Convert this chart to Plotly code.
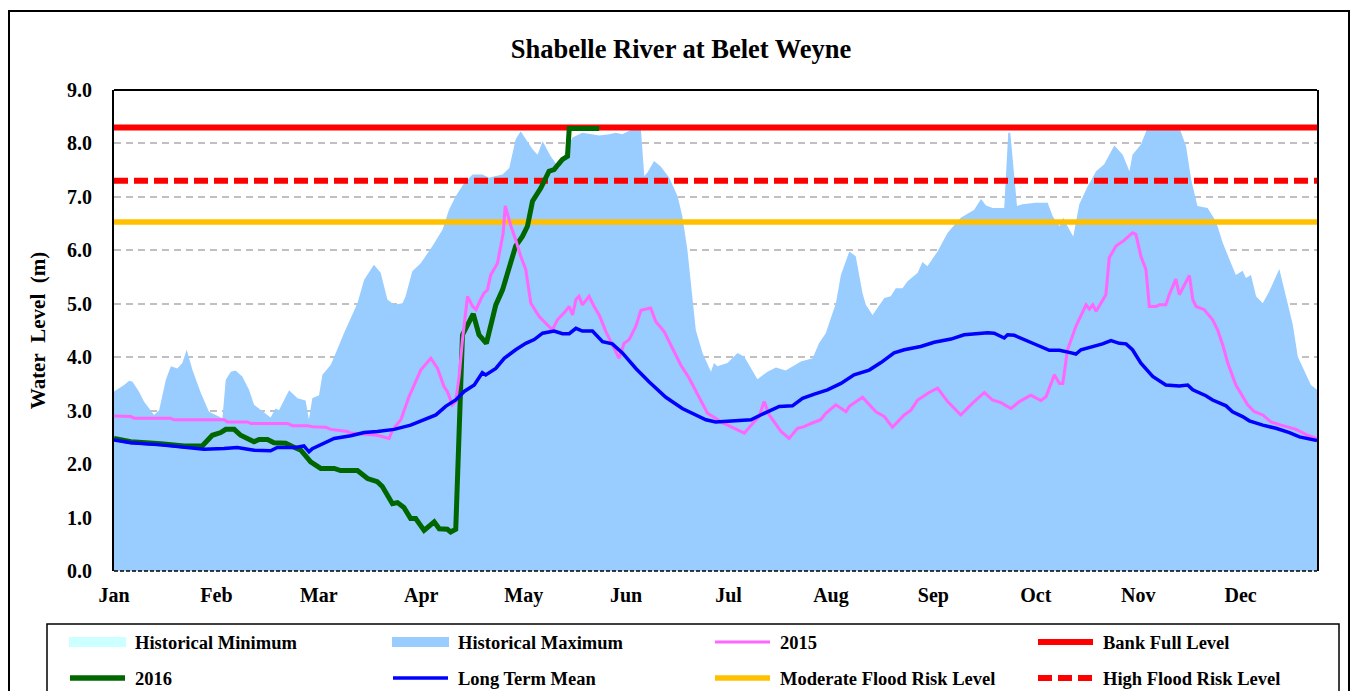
import plotly.graph_objects as go

# ---------------- data (x = day of year, y = water level in m) ----------------
MONTHS = ["Jan", "Feb", "Mar", "Apr", "May", "Jun", "Jul", "Aug", "Sep", "Oct", "Nov", "Dec"]
DAYS_PER_MONTH = 30.42
X_END = 357.3

BANK_FULL = 8.3
HIGH_FLOOD = 7.3
MODERATE_FLOOD = 6.53

MAX_DAY = [0, 3, 4.5, 5.5, 7.4, 8.9, 11.9, 13.4, 15.4, 16.9,
           18.8, 20.3, 21.6, 23.3, 25.8, 28.2, 32.2, 33.2, 34.7, 36.1,
           38.1, 40.1, 41.6, 44.1, 46.5, 48.0, 49.0, 52.0, 54.5, 56.9,
           57.9, 58.9, 60.9, 61.9, 64.4, 65.4, 68.3, 72.3, 74.3, 77.2,
           79.2, 81.2, 83.2, 85.7, 86.6, 88.6, 91.1, 94.6, 97.6, 99.5,
           101.5, 104.0, 106.5, 109.4, 111.4, 113.4, 115.4, 117.4, 119.3, 120.8,
           124.3, 125.8, 127.3, 129.7, 132.2, 134.5, 136.2, 139.1, 144.1, 147.1,
           149.0, 151.0, 153.0, 155.0, 156.5, 157.5, 158.4, 160.4, 162.4, 164.9,
           167.4, 168.8, 170.3, 171.8, 172.8, 174.8, 177.3, 178.2, 179.2, 182.2,
           185.2, 187.2, 191.1, 194.1, 196.6, 199.5, 204.0, 207.5, 209.4, 211.4,
           214.4, 215.9, 218.4, 220.3, 222.3, 223.3, 225.3, 228.8, 230.7, 232.2,
           234.2, 235.7, 238.7, 240.1, 241.6, 244.6, 247.6, 251.5, 255.5, 257.5,
           259.0, 261.0, 264.4, 265.6, 266.2, 268.2, 269.8, 273.8, 277.3, 278.8,
           280.8, 282.0, 283.2, 284.9, 286.7, 289.2, 291.7, 294.1, 297.1, 299.6,
           301.6, 302.5, 305.0, 307.0, 316.4, 318.4, 319.9, 321.8, 324.8, 327.3,
           329.3, 331.3, 333.2, 335.2, 336.2, 337.7, 339.2, 341.2, 343.1, 346.1,
           347.6, 350.1, 351.6, 354.0, 355.5, 357.3]
MAX_LEVEL = [3.36, 3.48, 3.56, 3.54, 3.36, 3.17, 2.92, 3.01, 3.58, 3.83,
             3.79, 3.89, 4.14, 3.76, 3.33, 2.98, 2.86, 3.58, 3.73, 3.75,
             3.64, 3.39, 3.11, 2.98, 2.87, 3.04, 3.01, 3.38, 3.23, 3.19,
             2.83, 3.23, 3.29, 3.67, 3.86, 4.01, 4.45, 5.01, 5.45, 5.73,
             5.58, 5.08, 4.98, 5.01, 5.14, 5.61, 5.76, 6.08, 6.39, 6.76,
             7.01, 7.26, 7.42, 7.42, 7.36, 7.39, 7.42, 7.54, 8.08, 8.23,
             7.89, 7.79, 8.04, 7.76, 7.54, 7.90, 8.11, 8.20, 8.15, 8.17,
             8.20, 8.17, 8.23, 8.30, 8.26, 7.39, 7.45, 7.67, 7.57, 7.36,
             7.01, 6.64, 6.01, 5.08, 4.51, 4.08, 3.73, 3.89, 3.83, 3.89,
             4.08, 4.01, 3.59, 3.73, 3.81, 3.75, 3.92, 3.98, 4.26, 4.45,
             5.01, 5.54, 5.98, 5.89, 5.20, 4.98, 4.79, 5.11, 5.14, 5.29,
             5.29, 5.42, 5.58, 5.78, 5.70, 5.98, 6.33, 6.61, 6.76, 6.96,
             6.84, 6.79, 6.79, 8.20, 8.20, 6.83, 6.86, 6.89, 6.89, 6.64,
             6.45, 6.61, 6.45, 6.26, 6.86, 7.20, 7.48, 7.61, 7.96, 7.79,
             7.48, 7.79, 7.98, 8.30, 8.30, 7.95, 7.33, 6.83, 6.79, 6.54,
             6.14, 5.83, 5.54, 5.62, 5.48, 5.54, 5.14, 5.01, 5.23, 5.65,
             5.26, 4.61, 4.01, 3.70, 3.48, 3.39]

Y2015_DAY = [0, 5, 6, 16.8, 17.8, 32.7, 33.7, 39.6, 40.6, 51.5,
             53, 57.4, 58.9, 62.9, 64.4, 69.3, 70.3, 78.2, 81.7, 82.7,
             85.2, 87.6, 91.1, 94.1, 96.1, 98.0, 99.0, 100.5, 101.5, 102.5,
             103.5, 105.0, 106.5, 107.5, 108.9, 109.9, 110.9, 111.9, 113.9, 114.9,
             115.6, 116.2, 117.9, 119.3, 120.8, 122.3, 123.8, 126.3, 128.7, 130.2,
             131.7, 133.7, 135.2, 136.2, 137.2, 138.1, 139.1, 141.1, 142.6, 144.1,
             146.1, 148.0, 150.0, 151.5, 153.0, 155.0, 156.5, 159.4, 160.9, 163.4,
             165.9, 168.3, 170.8, 173.8, 176.3, 178.7, 180.2, 183.2, 187.2, 190.1,
             191.6, 193.1, 194.6, 196.1, 198.1, 200.5, 203.0, 205.0, 207.0, 209.9,
             211.4, 214.4, 217.4, 218.4, 222.3, 226.3, 228.8, 231.2, 234.7, 236.7,
             238.7, 242.1, 244.6, 247.6, 251.5, 255.0, 258.5, 260.9, 263.4, 266.4,
             268.9, 272.3, 275.3, 276.8, 279.3, 280.8, 281.8, 283.2, 285.7, 288.7,
             289.7, 290.7, 291.7, 294.6, 295.6, 297.6, 300.1, 302.5, 303.5, 305.0,
             306.5, 307.5, 309.5, 310.5, 312.4, 313.4, 315.4, 316.4, 319.4, 320.4,
             321.4, 323.8, 326.3, 327.8, 329.3, 330.8, 333.2, 336.7, 338.7, 341.2,
             343.6, 346.6, 351.1, 354.5, 357.3]
Y2015_LEVEL = [2.90, 2.89, 2.86, 2.86, 2.83, 2.83, 2.79, 2.79, 2.76, 2.76,
               2.72, 2.72, 2.70, 2.69, 2.65, 2.61, 2.58, 2.54, 2.48, 2.64,
               2.83, 3.26, 3.76, 3.98, 3.79, 3.45, 3.36, 3.11, 3.17, 3.64,
               4.33, 5.14, 4.95, 4.89, 5.08, 5.20, 5.26, 5.54, 5.76, 6.14,
               6.33, 6.83, 6.45, 6.20, 5.89, 5.64, 5.01, 4.76, 4.61, 4.51,
               4.70, 4.83, 4.95, 4.79, 5.08, 5.14, 4.98, 5.14, 4.95, 4.79,
               4.48, 4.23, 3.98, 4.26, 4.33, 4.58, 4.88, 4.92, 4.67, 4.48,
               4.17, 3.86, 3.61, 3.26, 2.95, 2.86, 2.79, 2.70, 2.58, 2.79,
               2.89, 3.17, 2.92, 2.79, 2.61, 2.48, 2.67, 2.70, 2.76, 2.83,
               2.95, 3.11, 2.98, 3.08, 3.25, 2.98, 2.89, 2.69, 2.92, 3.01,
               3.20, 3.34, 3.42, 3.17, 2.92, 3.14, 3.34, 3.20, 3.15, 3.04,
               3.17, 3.29, 3.19, 3.26, 3.67, 3.51, 3.51, 4.14, 4.58, 4.98,
               4.90, 4.98, 4.86, 5.17, 5.86, 6.08, 6.19, 6.33, 6.30, 5.89,
               5.64, 4.95, 4.95, 4.98, 4.98, 5.17, 5.46, 5.17, 5.53, 5.08,
               4.95, 4.89, 4.70, 4.51, 4.23, 3.89, 3.48, 3.11, 2.98, 2.92,
               2.79, 2.73, 2.65, 2.54, 2.48]

Y2016_DAY = [0, 5, 13.9, 20.8, 26.2, 29.2, 31.7, 33.2, 35.7, 37.6,
             39.6, 41.6, 43.1, 45.6, 47.5, 51.0, 53.0, 55.5, 58.4, 61.4,
             65.4, 67.3, 72.3, 75.3, 78.2, 79.7, 82.7, 84.2, 86.1, 88.1,
             89.6, 92.1, 95.1, 96.6, 99.0, 100.0, 101.5, 103.5, 106.7, 108.4,
             110.6, 113.4, 115.4, 117.9, 119.3, 121.3, 122.8, 124.3, 126.8, 129.2,
             130.7, 133.2, 134.7, 135.2, 144.1]
Y2016_LEVEL = [2.48, 2.42, 2.38, 2.34, 2.34, 2.54, 2.59, 2.65, 2.65, 2.54,
               2.48, 2.42, 2.46, 2.46, 2.40, 2.39, 2.33, 2.26, 2.04, 1.92,
               1.92, 1.88, 1.88, 1.73, 1.67, 1.58, 1.26, 1.28, 1.19, 0.98,
               0.98, 0.76, 0.92, 0.79, 0.78, 0.73, 0.78, 4.42, 4.81, 4.42,
               4.26, 4.98, 5.26, 5.83, 6.08, 6.26, 6.45, 6.92, 7.17, 7.48,
               7.51, 7.70, 7.76, 8.28, 8.28]

MEAN_DAY = [0, 5, 13.9, 20.8, 26.7, 32.7, 36.6, 41.6, 46.5, 48.5,
            54.0, 56.4, 57.9, 58.9, 61.4, 65.4, 70.3, 74.3, 78.2, 83.2,
            88.1, 91.1, 95.6, 98.5, 101.5, 104.0, 107.0, 109.4, 110.4, 113.4,
            115.9, 119.3, 122.3, 124.8, 127.3, 130.7, 133.2, 135.2, 137.2, 139.1,
            142.1, 145.1, 148.0, 151.0, 155.0, 158.9, 163.9, 168.8, 172.8, 175.8,
            178.7, 184.2, 189.2, 193.1, 197.6, 201.5, 204.5, 208.0, 211.9, 215.9,
            219.8, 224.3, 227.8, 231.7, 234.7, 239.6, 243.6, 248.6, 252.5, 259.5,
            261.4, 264.4, 265.4, 267.4, 270.3, 272.8, 274.8, 277.8, 280.8, 283.7,
            285.7, 287.2, 290.7, 293.6, 296.1, 298.6, 300.6, 302.5, 305.0, 308.5,
            312.4, 316.4, 318.9, 320.4, 324.3, 326.3, 330.3, 332.2, 335.2, 337.2,
            341.2, 345.1, 349.1, 352.1, 357.3]
MEAN_LEVEL = [2.45, 2.40, 2.36, 2.31, 2.28, 2.29, 2.31, 2.26, 2.25, 2.31,
              2.31, 2.34, 2.23, 2.29, 2.36, 2.48, 2.53, 2.59, 2.61, 2.65,
              2.73, 2.81, 2.92, 3.08, 3.20, 3.36, 3.48, 3.71, 3.67, 3.79,
              3.98, 4.14, 4.26, 4.33, 4.45, 4.49, 4.44, 4.44, 4.54, 4.49,
              4.49, 4.29, 4.25, 4.08, 3.79, 3.54, 3.25, 3.04, 2.92, 2.83,
              2.79, 2.81, 2.83, 2.95, 3.08, 3.09, 3.23, 3.31, 3.39, 3.51,
              3.67, 3.76, 3.90, 4.08, 4.14, 4.20, 4.28, 4.34, 4.42, 4.46,
              4.45, 4.36, 4.42, 4.41, 4.33, 4.25, 4.21, 4.13, 4.13, 4.09,
              4.06, 4.14, 4.20, 4.25, 4.31, 4.26, 4.25, 4.14, 3.89, 3.64,
              3.48, 3.46, 3.48, 3.39, 3.28, 3.20, 3.09, 2.98, 2.89, 2.81,
              2.73, 2.67, 2.59, 2.51, 2.44]

LEGEND_NAMES = ["Historical Minimum", "Historical Maximum", "2015", "Bank Full Level",
                "2016", "Long Term Mean", "Moderate Flood Risk Level", "High Flood Risk Level"]

# ---------------- styles ----------------
FONT = "Liberation Serif, Times New Roman, serif"
C_MIN, C_MAX = "#CCFFFF", "#99CCFF"
C_2015, C_2016, C_MEAN = "#FF66FF", "#006600", "#0000FF"
C_RED, C_YELLOW = "#FF0000", "#FFC000"
HIGH_DASH = "14px,6px"

W, H = 1354, 691
ML, MR, MT, MB = 114, 37, 90, 120
PW, PH = W - ML - MR, H - MT - MB


def px_x(p):
    return (p - ML) / PW


def px_y(p):
    return (H - MB - p) / PH


fig = go.Figure()

fig.add_trace(go.Scatter(x=MAX_DAY, y=MAX_LEVEL, mode="lines", fill="tozeroy",
                         fillcolor=C_MAX, line=dict(width=0, color=C_MAX),
                         name=LEGEND_NAMES[1], showlegend=False))
fig.add_trace(go.Scatter(x=[0, X_END], y=[BANK_FULL, BANK_FULL], mode="lines",
                         line=dict(color=C_RED, width=6),
                         name=LEGEND_NAMES[3], showlegend=False))
fig.add_trace(go.Scatter(x=[0, X_END], y=[HIGH_FLOOD, HIGH_FLOOD], mode="lines",
                         line=dict(color=C_RED, width=6, dash=HIGH_DASH),
                         name=LEGEND_NAMES[7], showlegend=False))
fig.add_trace(go.Scatter(x=[0, X_END], y=[MODERATE_FLOOD, MODERATE_FLOOD], mode="lines",
                         line=dict(color=C_YELLOW, width=5.5),
                         name=LEGEND_NAMES[6], showlegend=False))
fig.add_trace(go.Scatter(x=Y2016_DAY, y=Y2016_LEVEL, mode="lines",
                         line=dict(color=C_2016, width=5),
                         name=LEGEND_NAMES[4], showlegend=False))
fig.add_trace(go.Scatter(x=Y2015_DAY, y=Y2015_LEVEL, mode="lines",
                         line=dict(color=C_2015, width=3),
                         name=LEGEND_NAMES[2], showlegend=False))
fig.add_trace(go.Scatter(x=MEAN_DAY, y=MEAN_LEVEL, mode="lines",
                         line=dict(color=C_MEAN, width=3.5),
                         name=LEGEND_NAMES[5], showlegend=False))

fig.update_layout(
    width=W, height=H, autosize=False,
    margin=dict(l=ML, r=MR, t=MT, b=MB, autoexpand=False),
    paper_bgcolor="white", plot_bgcolor="white",
    font=dict(family=FONT, color="black", weight="bold"),
    title=dict(text="Shabelle River at Belet Weyne", x=0.503, xanchor="center",
               y=1 - 49 / H, yanchor="middle", yref="container",
               font=dict(size=26.5, family=FONT, weight="bold", color="black")),
    xaxis=dict(range=[0, X_END], tickvals=[i * DAYS_PER_MONTH for i in range(12)],
               ticktext=MONTHS, showgrid=False, zeroline=False, showline=False,
               ticks="", ticklabelstandoff=10, automargin=False,
               tickfont=dict(size=20, family=FONT, weight="bold")),
    yaxis=dict(range=[0, 9], dtick=1, tickformat=".1f", showgrid=True,
               gridcolor="#C0C0C0", griddash="7px,5px", gridwidth=1.5,
               zeroline=False, showline=True, linecolor="black", linewidth=2,
               mirror=True, ticks="", ticklabelstandoff=16, automargin=False,
               tickfont=dict(size=20, family=FONT, weight="bold"),
               title=dict(text="Water\u00a0 Level\u00a0 (m)", standoff=16,
                          font=dict(size=21, family=FONT, weight="bold"))),
    showlegend=False,
)

# plot-area top border (solid) and bottom axis line (dashed)
fig.add_shape(type="line", xref="paper", yref="paper", x0=0, x1=1, y0=1, y1=1,
              line=dict(color="black", width=2))
fig.add_shape(type="line", xref="paper", yref="paper", x0=0, x1=1, y0=0, y1=0,
              line=dict(color="black", width=1.5, dash="4px,2px"))
# outer chart frame
fig.add_shape(type="rect", xref="paper", yref="paper",
              x0=px_x(9), x1=px_x(1349), y0=px_y(710), y1=px_y(11),
              line=dict(color="black", width=2), fillcolor="rgba(0,0,0,0)")

# ---------------- legend (box, swatches, labels) ----------------
fig.add_shape(type="rect", xref="paper", yref="paper",
              x0=px_x(47), x1=px_x(1339), y0=px_y(705), y1=px_y(624),
              line=dict(color="black", width=1.5), fillcolor="white")

COL_X = [69, 392, 714, 1037]
ROW_Y = [642, 678]
SWATCH_LEN = 57
legend_styles = [
    ("fill", C_MIN, None, None),
    ("fill", C_MAX, None, None),
    ("line", C_2015, 3, "solid"),
    ("line", C_RED, 6, "solid"),
    ("line", C_2016, 5.5, "solid"),
    ("line", C_MEAN, 3.5, "solid"),
    ("line", C_YELLOW, 5.5, "solid"),
    ("line", C_RED, 6, HIGH_DASH),
]
for i, (name, (kind, color, width, dash)) in enumerate(zip(LEGEND_NAMES, legend_styles)):
    cx = COL_X[i % 4]
    cy = ROW_Y[i // 4]
    if kind == "fill":
        fig.add_shape(type="rect", xref="paper", yref="paper",
                      x0=px_x(cx), x1=px_x(cx + SWATCH_LEN),
                      y0=px_y(cy + 5), y1=px_y(cy - 5),
                      line=dict(width=0), fillcolor=color)
    else:
        fig.add_shape(type="line", xref="paper", yref="paper",
                      x0=px_x(cx + 1), x1=px_x(cx + SWATCH_LEN - 1),
                      y0=px_y(cy), y1=px_y(cy),
                      line=dict(color=color, width=width, dash=dash))
    fig.add_annotation(text=name, xref="paper", yref="paper",
                       x=px_x(cx + SWATCH_LEN + 7), y=px_y(cy + 1),
                       xanchor="left", yanchor="middle", showarrow=False,
                       font=dict(size=18.5, family=FONT, weight="bold", color="black"))

fig.write_html("out.html", config={"displayModeBar": False},
               post_script="document.body.style.margin='0';document.body.style.overflow='hidden';")
